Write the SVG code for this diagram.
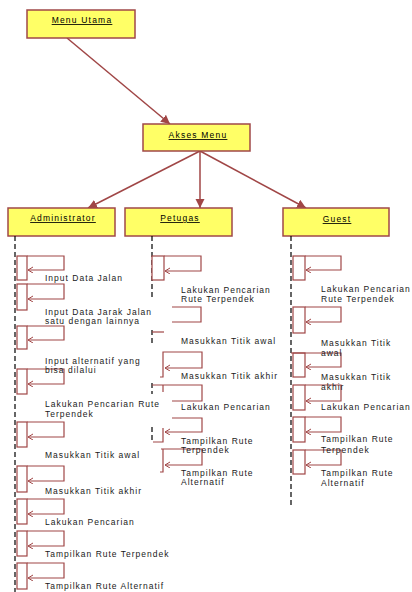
<svg xmlns="http://www.w3.org/2000/svg" width="412" height="592" viewBox="0 0 412 592">
<defs>
<style>
.box{fill:#FFFF66;stroke:#A04848;stroke-width:1.5}
.lbl{font-family:"Liberation Sans",Arial,sans-serif;font-size:8.5px;letter-spacing:1.2px;fill:#000;text-anchor:middle;text-decoration:underline}
.t{font-family:"Liberation Sans",Arial,sans-serif;font-size:8.5px;letter-spacing:1px;fill:#1a1a1a}
.conn{stroke:#A04646;stroke-width:1.5;fill:none}
.life{stroke:#000;stroke-width:1.2;stroke-dasharray:5 3;fill:none}
.act{fill:#fff;stroke:#A04646;stroke-width:1.2}
.self{stroke:#A04646;stroke-width:1.2;fill:none}
</style>
<marker id="ah" markerUnits="userSpaceOnUse" markerWidth="10" markerHeight="10" refX="9" refY="4.5" orient="auto">
<path d="M0,0 L9,4.5 L0,9 z" fill="#A04646"/>
</marker>
<marker id="sm" markerUnits="userSpaceOnUse" markerWidth="7" markerHeight="7" refX="5" refY="3" orient="auto">
<path d="M0,0 L5,3 L0,6" fill="none" stroke="#A04646" stroke-width="1"/>
</marker>
</defs>

<g id="connectors">
<line class="conn" x1="67" y1="38" x2="170" y2="124" marker-end="url(#ah)"/>
<line class="conn" x1="200" y1="151" x2="88" y2="208" marker-end="url(#ah)"/>
<line class="conn" x1="200" y1="151" x2="200" y2="208" marker-end="url(#ah)"/>
<line class="conn" x1="200" y1="151" x2="306" y2="208" marker-end="url(#ah)"/>
</g>

<g id="menu-utama">
<rect class="box" x="27" y="10" width="108" height="28"/>
<text class="lbl" x="82" y="23">Menu Utama</text>
</g>
<g id="akses-menu">
<rect class="box" x="143" y="124" width="107" height="27"/>
<text class="lbl" x="198" y="138">Akses Menu</text>
</g>
<g id="administrator">
<rect class="box" x="8" y="208" width="107" height="28"/>
<text class="lbl" x="63" y="221">Administrator</text>
</g>
<g id="petugas">
<rect class="box" x="125" y="208" width="107" height="28"/>
<text class="lbl" x="180" y="221">Petugas</text>
</g>
<g id="guest">
<rect class="box" x="283" y="208" width="106" height="28"/>
<text class="lbl" x="337" y="222">Guest</text>
</g>

<g id="admin-lifeline">
<line class="life" x1="15" y1="236" x2="15" y2="592"/>
<rect class="act" x="17" y="256" width="10" height="24"/><path class="self" d="M27,256 H64 V270 H28" marker-end="url(#sm)"/>
<rect class="act" x="17" y="284" width="10" height="26"/><path class="self" d="M27,284 H64 V299 H28" marker-end="url(#sm)"/>
<rect class="act" x="17" y="326" width="10" height="23"/><path class="self" d="M27,326 H64 V340 H28" marker-end="url(#sm)"/>
<rect class="act" x="17" y="369" width="10" height="25"/><path class="self" d="M27,369 H64 V384 H28" marker-end="url(#sm)"/>
<rect class="act" x="17" y="422" width="10" height="25"/><path class="self" d="M27,422 H64 V437 H28" marker-end="url(#sm)"/>
<rect class="act" x="17" y="466" width="10" height="26"/><path class="self" d="M27,466 H64 V481 H28" marker-end="url(#sm)"/>
<rect class="act" x="17" y="499" width="10" height="25"/><path class="self" d="M27,499 H64 V514 H28" marker-end="url(#sm)"/>
<rect class="act" x="17" y="531" width="10" height="25"/><path class="self" d="M27,531 H64 V546 H28" marker-end="url(#sm)"/>
<rect class="act" x="17" y="563" width="10" height="26"/><path class="self" d="M27,563 H64 V578 H28" marker-end="url(#sm)"/>
<text class="t" x="45" y="281">Input Data Jalan</text>
<text class="t" x="45" y="315">Input Data Jarak Jalan</text>
<text class="t" x="45" y="324">satu dengan lainnya</text>
<text class="t" x="45" y="364">Input alternatif yang</text>
<text class="t" x="45" y="373">bisa dilalui</text>
<text class="t" x="45" y="407">Lakukan Pencarian Rute</text>
<text class="t" x="45" y="417">Terpendek</text>
<text class="t" x="45" y="458">Masukkan Titik awal</text>
<text class="t" x="45" y="494">Masukkan Titik akhir</text>
<text class="t" x="45" y="525">Lakukan Pencarian</text>
<text class="t" x="45" y="557">Tampilkan Rute Terpendek</text>
<text class="t" x="45" y="589">Tampilkan Rute Alternatif</text>
</g>

<g id="petugas-lifeline">
<line class="life" x1="152" y1="236" x2="152" y2="297"/>
<rect class="act" x="152" y="256" width="12" height="24"/><path class="self" d="M164,256 H201 V271 H165" marker-end="url(#sm)"/>
<path class="self" d="M172,307 H201 V322 H172"/>
<line class="life" x1="152" y1="330" x2="152" y2="346"/>
<path class="self" d="M152,332 H164"/>
<path class="self" d="M160,377 H163 V352 H202 V368 H165" marker-end="url(#sm)"/>
<line class="life" x1="152" y1="383" x2="152" y2="394"/>
<path class="self" d="M152,385 H202 V401 H172"/>
<path class="self" d="M163,385 V392"/>
<line class="life" x1="152" y1="427" x2="152" y2="442"/>
<path class="self" d="M172,418 H202 V432 H165" marker-end="url(#sm)"/>
<path class="self" d="M163,428 V442 H153"/>
<path class="self" d="M161,449 H202 V465 H165" marker-end="url(#sm)"/>
<path class="self" d="M163,449 V472 H160"/>
<text class="t" x="181" y="293">Lakukan Pencarian</text>
<text class="t" x="181" y="302">Rute Terpendek</text>
<text class="t" x="181" y="344">Masukkan Titik awal</text>
<text class="t" x="181" y="379">Masukkan Titik akhir</text>
<text class="t" x="181" y="410">Lakukan Pencarian</text>
<text class="t" x="181" y="444">Tampilkan Rute</text>
<text class="t" x="181" y="453">Terpendek</text>
<text class="t" x="181" y="476">Tampilkan Rute</text>
<text class="t" x="181" y="485">Alternatif</text>
</g>

<g id="guest-lifeline">
<line class="life" x1="291" y1="236" x2="291" y2="505"/>
<rect class="act" x="293" y="256" width="12" height="24"/><path class="self" d="M305,256 H341 V270 H306" marker-end="url(#sm)"/>
<rect class="act" x="293" y="307" width="12" height="26"/><path class="self" d="M305,307 H341 V322 H306" marker-end="url(#sm)"/>
<rect class="act" x="293" y="353" width="12" height="24"/><path class="self" d="M291,353 H341 V367 H306" marker-end="url(#sm)"/>
<rect class="act" x="293" y="385" width="12" height="25"/><path class="self" d="M305,385 H341 V401 H306" marker-end="url(#sm)"/>
<rect class="act" x="293" y="417" width="12" height="25"/><path class="self" d="M305,417 H341 V432 H306" marker-end="url(#sm)"/>
<rect class="act" x="293" y="450" width="12" height="24"/><path class="self" d="M305,450 H341 V465 H306" marker-end="url(#sm)"/>
<text class="t" x="321" y="292">Lakukan Pencarian</text>
<text class="t" x="321" y="302">Rute Terpendek</text>
<text class="t" x="321" y="346">Masukkan Titik</text>
<text class="t" x="321" y="356">awal</text>
<text class="t" x="321" y="380">Masukkan Titik</text>
<text class="t" x="321" y="390">akhir</text>
<text class="t" x="321" y="410">Lakukan Pencarian</text>
<text class="t" x="321" y="442">Tampilkan Rute</text>
<text class="t" x="321" y="453">Terpendek</text>
<text class="t" x="321" y="476">Tampilkan Rute</text>
<text class="t" x="321" y="486">Alternatif</text>
</g>
</svg>
